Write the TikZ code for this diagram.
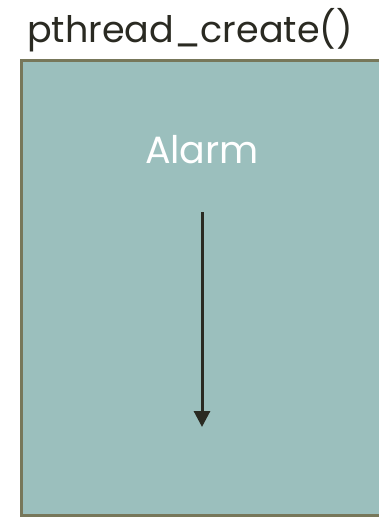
\documentclass[tikz,border=0pt]{standalone}
\usepackage{fontspec}
\setmainfont{Poppins}
\usetikzlibrary{arrows.meta}
\definecolor{threadfill}{HTML}{9BBFBD}
\definecolor{threadrule}{HTML}{77775A}
\definecolor{inkdark}{HTML}{2A2A22}
\tikzset{
  % the thread body, drawn as a plain box
  threadbox/.style={fill=threadfill, draw=threadrule, line width=3pt},
  flowline/.style={draw=inkdark, line width=3pt, -{Triangle[length=16pt,width=16pt]}},
}
\begin{document}
\begin{tikzpicture}[x=1pt,y=-1pt]
  \useasboundingbox (0,0) rectangle (378,517);

  \path[threadbox] (21.5,60.5) rectangle (390,515.5);
  \node [inkdark, anchor=base, font=\fontsize{36.5}{40}\selectfont] at (190,42) (title) {pthread\_create()};
  \node [white, anchor=base, font=\fontsize{38}{42}\selectfont] at (202,163) (alarm) {Alarm};

  % where the thread starts and where it runs to
  \coordinate (start) at (202,212);
  \coordinate (finish) at (202,427);
  \draw [flowline] (start) -- (finish);

\end{tikzpicture}
\end{document}
